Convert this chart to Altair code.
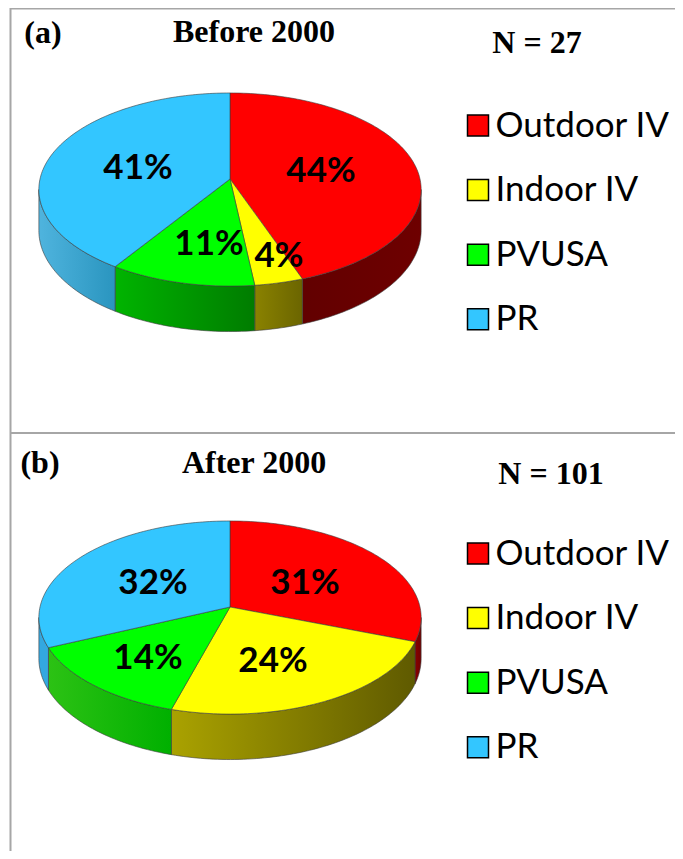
import math
import altair as alt
import pandas as pd

categories = ["Outdoor IV", "Indoor IV", "PVUSA", "PR"]
colors = ["#ff0000", "#ffff00", "#00ff00", "#33c6ff"]

panel_titles = ["Before 2000", "After 2000"]
panel_tags = ["(a)", "(b)"]
panel_ns = ["N = 27", "N = 101"]
counts_a = [12, 1, 3, 11]
counts_b = [31, 24, 14, 32]
labels_a = ["44%", "4%", "11%", "41%"]
labels_b = ["31%", "24%", "14%", "32%"]

# layout (page pixels)
W, H = 667, 843
RX, RY, K, DEPTH = 190.0, 95.4, 0.109, 40.5
SIDE_A = {"Outdoor IV": ("#620000", "#6e0000"), "Indoor IV": ("#8a8200", "#6b6500"),
          "PVUSA": ("#00b400", "#007c00"), "PR": ("#4fb4de", "#2a95bf")}
SIDE_B = {"Outdoor IV": ("#8a0000", "#700000"), "Indoor IV": ("#aaa200", "#5f5a00"),
          "PVUSA": ("#2cc214", "#00b000"), "PR": ("#33a8e0", "#33a8e0")}

x_scale = alt.Scale(domain=[8, 8 + W], nice=False, zero=False)
y_scale = alt.Scale(domain=[8, 8 + H], reverse=True, nice=False, zero=False)
xe = alt.X("x:Q", scale=x_scale, axis=None)
ye = alt.Y("y:Q", scale=y_scale, axis=None)


def project(t, ax, ay, drop=0.0):
    w = 1 + K * math.cos(t)
    return ax + RX * math.sin(t) / w, ay - RY * math.cos(t) / w + drop / w


def sector_rows(counts, ax, ay):
    total = sum(counts)
    rows, sides, start = [], [], 0.0
    vis0, vis1 = math.acos(-K), 2 * math.pi - math.acos(-K)
    for cat, c in zip(categories, counts):
        end = start + c / total * 2 * math.pi
        n = max(3, int((end - start) / 0.02))
        ts = [start + (end - start) * i / n for i in range(n + 1)]
        pts = [(ax, ay)] + [project(t, ax, ay) for t in ts] + [(ax, ay)]
        rows += [{"category": cat, "x": x, "y": y, "o": i} for i, (x, y) in enumerate(pts)]
        a, b = max(start, vis0), min(end, vis1)
        if b > a:
            n = max(3, int((b - a) / 0.02))
            vs = [a + (b - a) * i / n for i in range(n + 1)]
            poly = [project(t, ax, ay) for t in vs] + [project(t, ax, ay, DEPTH) for t in reversed(vs)]
            poly.append(poly[0])
            sides.append((cat, pd.DataFrame([{"x": x, "y": y, "o": i} for i, (x, y) in enumerate(poly)])))
        start = end
    return pd.DataFrame(rows), sides


def text_layer(texts, font, size, weight, xy):
    xs, ys = zip(*xy)
    df = pd.DataFrame({"t": texts, "x": xs, "y": ys})
    return alt.Chart(df).mark_text(
        font=font, fontSize=size, fontWeight=weight, color="black", align="center", baseline="middle"
    ).encode(x=xe, y=ye, text="t:N")


def pie(counts, labels, side_cols, title, tag, n, apex_y, label_xy, head_xy, legend_y):
    top_df, sides = sector_rows(counts, 230, apex_y)
    layers = []
    for cat, df in sides:
        c0, c1 = side_cols[cat]
        grad = alt.Gradient(gradient="linear", x1=0, x2=1, y1=0, y2=0,
                            stops=[alt.GradientStop(color=c0, offset=0), alt.GradientStop(color=c1, offset=1)])
        layers.append(alt.Chart(df).mark_line(fill=grad, stroke="#3c3c3c", strokeWidth=0.6).encode(
            x=xe, y=ye, order="o:Q"))
    layers.append(alt.Chart(top_df).mark_line(stroke="#3c3c3c", strokeWidth=0.6).encode(
        x=xe, y=ye, order="o:Q",
        fill=alt.Fill("category:N", scale=alt.Scale(domain=categories, range=colors),
                      sort=categories,
                      legend=alt.Legend(orient="none", legendX=452.5, legendY=legend_y, title=None,
                                        symbolType="square", symbolSize=441, symbolStrokeColor="black",
                                        symbolStrokeWidth=1.5, symbolOpacity=1, labelFont="Lato", labelFontSize=35,
                                        labelColor="black", labelOffset=0, labelLimit=300, rowPadding=28.6))))
    layers.append(text_layer(labels, "Lato", 35, "bold", label_xy))
    layers.append(text_layer([tag, title, n], "Liberation Serif", 32, "bold", head_xy))
    return layers


frame = alt.Chart(pd.DataFrame({"a": [0]}))
rules = [
    frame.mark_rule(color="#a6a6a6", strokeWidth=2).encode(x=alt.value(2.5), y=alt.value(0), y2=alt.value(H)),
    frame.mark_rule(color="#a6a6a6", strokeWidth=2).encode(x=alt.value(2), x2=alt.value(W), y=alt.value(0.5)),
    frame.mark_rule(color="#a6a6a6", strokeWidth=2).encode(x=alt.value(2), x2=alt.value(W), y=alt.value(425)),
]

a = pie(counts_a, labels_a, SIDE_A, panel_titles[0], panel_tags[0], panel_ns[0], 179,
        [(321, 171), (279, 256), (209, 244), (138, 168)],
        [(43, 33), (254, 32), (537, 43)], 100)
b = pie(counts_b, labels_b, SIDE_B, panel_titles[1], panel_tags[1], panel_ns[1], 607,
        [(305, 583), (273, 661), (148, 658), (153, 583)],
        [(40, 463), (254, 463), (551, 474)], 528)

chart = alt.layer(*rules, *a, *b).resolve_scale(fill="independent").properties(
    width=W, height=H, padding=0, autosize=alt.AutoSizeParams(type="none"), background="white"
).configure_view(stroke=None)
chart.save("out.html", embed_options={"renderer": "svg", "actions": False})
